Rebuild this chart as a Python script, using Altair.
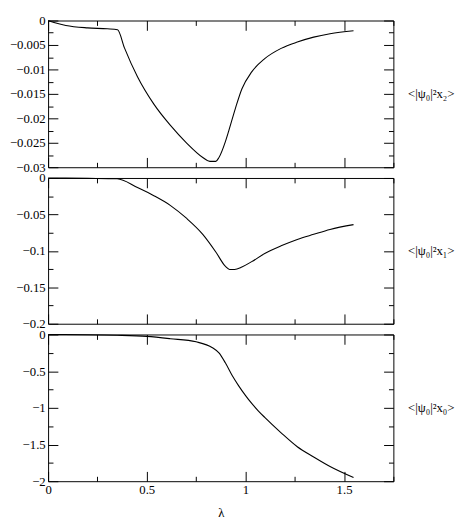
import altair as alt
import pandas as pd

# lambda values and panel curves
lam2 = [0, 0.03, 0.09, 0.2, 0.3, 0.352, 0.387, 0.453, 0.536, 0.619, 0.701, 0.784, 0.82, 0.85,
        0.866, 0.899, 0.916, 0.949, 0.982, 1.032, 1.098, 1.181, 1.263, 1.346, 1.429, 1.548]
val2 = [0, -0.0004, -0.001, -0.0015, -0.0017, -0.0019, -0.0056, -0.0115, -0.0171, -0.0214, -0.0250,
        -0.0280, -0.0288, -0.0288, -0.0280, -0.0247, -0.0225, -0.0180, -0.0140, -0.0105, -0.0078,
        -0.0057, -0.0044, -0.0034, -0.0027, -0.0021]

lam1 = [0, 0.2, 0.35, 0.453, 0.536, 0.619, 0.701, 0.784, 0.85, 0.899, 0.92, 0.945, 0.982,
        1.032, 1.098, 1.181, 1.263, 1.346, 1.429, 1.548]
val1 = [0, -0.0005, -0.001, -0.0132, -0.0243, -0.0375, -0.0552, -0.0773, -0.1015, -0.1214, -0.1255,
        -0.1255, -0.1222, -0.1148, -0.1037, -0.0931, -0.0843, -0.0773, -0.0706, -0.0640]

lam0 = [0, 0.2, 0.35, 0.5, 0.619, 0.75, 0.833, 0.866, 0.899, 0.933, 0.966, 1.0, 1.032, 1.065,
        1.098, 1.181, 1.263, 1.346, 1.429, 1.548]
val0 = [0, -0.003, -0.01, -0.026, -0.057, -0.10, -0.18, -0.25, -0.39, -0.56, -0.70, -0.83, -0.94,
        -1.04, -1.13, -1.34, -1.53, -1.67, -1.80, -1.95]

x_major = [0, 0.5, 1.0, 1.5]
x_minor = [0.25, 0.75, 1.25, 1.75]

y2_major = [0, -0.005, -0.01, -0.015, -0.02, -0.025, -0.03]
y2_minor = [-0.0025, -0.0075, -0.0125, -0.0175, -0.0225, -0.0275]
y1_major = [0, -0.05, -0.1, -0.15, -0.2]
y1_minor = [-0.025, -0.075, -0.125, -0.175]
y0_major = [0, -0.5, -1, -1.5, -2]
y0_minor = [-0.25, -0.75, -1.25, -1.75]

labels = ["<|ψ₀|²x₂>", "<|ψ₀|²x₁>", "<|ψ₀|²x₀>"]

FONT = "Liberation Serif"


def panel(xs, ys, ymin, ymaj, ymin_ticks, yfmt, label, bottom, height):
    df = pd.DataFrame({"lam": xs, "val": ys})
    xs_ = alt.Scale(domain=[0, 1.75], nice=False, zero=False)
    ys_ = alt.Scale(domain=[ymin, 0], nice=False, zero=False)
    base = alt.Chart(df)

    def xaxis(orient, values, size, main=False):
        kw = dict(orient=orient, values=values, tickSize=size, offset=-size, domain=False,
                  grid=False, labels=main, labelFlush=False, labelFont=FONT, titleFont=FONT)
        if main:
            kw.update(format=".1~f", labelPadding=3, title="λ", titlePadding=10)
        else:
            kw.update(title=None)
        return alt.Axis(**kw)

    def yaxis(orient, values, size, main=False, title=None):
        kw = dict(orient=orient, values=values, tickSize=size, offset=-size, domain=False,
                  grid=False, labels=main, labelFont=FONT, titleFont=FONT)
        if main:
            kw.update(format=yfmt, labelPadding=3)
        if title:
            kw.update(title=title, titleAngle=0, titleAlign="left", titleBaseline="middle",
                      titlePadding=14)
        else:
            kw.update(title=None)
        return alt.Axis(**kw)

    def enc(xa, ya):
        return dict(x=alt.X("lam:Q", scale=xs_, axis=xa), y=alt.Y("val:Q", scale=ys_, axis=ya))

    line = base.mark_line(color="black", strokeWidth=1.1, interpolate="monotone").encode(
        **enc(xaxis("bottom", x_major, 10, main=bottom), yaxis("left", ymaj, 10, main=True)))
    l2 = base.mark_line(strokeOpacity=0).encode(
        **enc(xaxis("top", x_major, 10), yaxis("right", ymaj, 10, title=label)))
    l3 = base.mark_line(strokeOpacity=0).encode(
        **enc(xaxis("bottom", x_minor, 5), yaxis("left", ymin_ticks, 5)))
    l4 = base.mark_line(strokeOpacity=0).encode(
        **enc(xaxis("top", x_minor, 5), yaxis("right", ymin_ticks, 5)))
    return alt.layer(line, l2, l3, l4).resolve_axis(x="independent", y="independent").properties(
        width=353, height=height)


p2 = panel(lam2, val2, -0.03, y2_major, y2_minor, ".3~f", labels[0], False, 150)
p1 = panel(lam1, val1, -0.2, y1_major, y1_minor, ".2~f", labels[1], False, 149)
p0 = panel(lam0, val0, -2, y0_major, y0_minor, ".1~f", labels[2], True, 150)

chart = alt.vconcat(p2, p1, p0, spacing=11, bounds="flush").properties(padding=0).configure(
    font=FONT
).configure_view(
    stroke="black", strokeWidth=1
).configure_axis(
    labelFont=FONT, labelFontSize=13, labelColor="black", titleFont=FONT, titleFontSize=13,
    titleFontWeight="normal", titleColor="black", tickColor="black", tickWidth=1
)

chart.save("out.html", embed_options={"renderer": "svg", "actions": False})
